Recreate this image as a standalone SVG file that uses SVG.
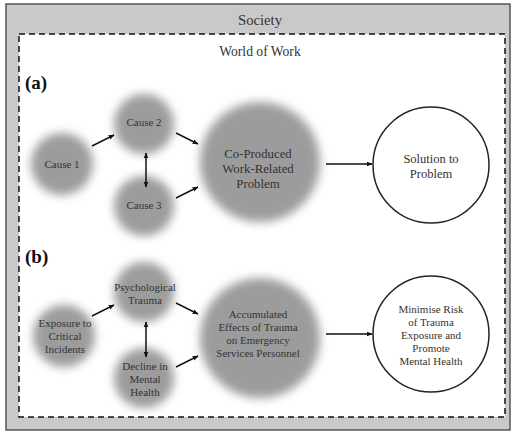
<svg xmlns="http://www.w3.org/2000/svg" width="520" height="436" viewBox="0 0 520 436" font-family="'Liberation Serif', 'DejaVu Serif', serif">
<defs>
<filter id="blur" x="-50%" y="-50%" width="200%" height="200%"><feGaussianBlur stdDeviation="5"/></filter>
<marker id="ah" viewBox="0 0 10 10" refX="9" refY="5" markerWidth="6" markerHeight="6" orient="auto-start-reverse" markerUnits="userSpaceOnUse"><path d="M0,1 L10,5 L0,9 z" fill="#111"/></marker>
</defs>
<style>
text, tspan{font-family:'Liberation Serif','DejaVu Serif',serif;fill:#333;text-anchor:middle}
.blob{fill:#9c9c9c;filter:url(#blur)}
.ring{fill:#fff;stroke:#222;stroke-width:1.5}
.t11{font-size:11px}
.t12{font-size:12.5px}
.t13{font-size:12.8px}
.lbl{font-size:19px;font-weight:bold;text-anchor:start;fill:#111}
#connectors line{stroke:#111;stroke-width:1.5;marker-end:url(#ah)}
</style>
<rect x="0" y="0" width="520" height="436" fill="#fff"/>
<g id="society">
<rect x="6" y="4" width="504" height="426" fill="#c9c9c9" stroke="#555" stroke-width="1.5"/>
<text x="260" y="25" style="font-size:14.7px">Society</text>
</g>
<g id="world-of-work">
<rect x="19" y="34" width="486" height="383" fill="#fff" stroke="#111" stroke-width="1.5" stroke-dasharray="6,4"/>
<text x="260" y="56" style="font-size:13.6px">World of Work</text>
</g>
<text class="lbl" x="25" y="89">(a)</text>
<text class="lbl" x="25" y="263">(b)</text>
<g id="cause1"><circle class="blob" cx="62" cy="164" r="31"/><text class="t11" x="62" y="168">Cause 1</text></g>
<g id="cause2"><circle class="blob" cx="144" cy="124" r="30"/><text class="t11" x="144" y="126">Cause 2</text></g>
<g id="cause3"><circle class="blob" cx="144" cy="206" r="30"/><text class="t11" x="144" y="209">Cause 3</text></g>
<g id="problem"><circle class="blob" cx="260" cy="162" r="60"/><text class="t13"><tspan x="258" y="158">Co-Produced</tspan><tspan x="258" y="173">Work-Related</tspan><tspan x="258" y="188">Problem</tspan></text></g>
<g id="solution"><circle class="ring" cx="431" cy="165" r="58"/><text class="t12"><tspan x="431" y="163">Solution to</tspan><tspan x="431" y="178">Problem</tspan></text></g>
<g id="exposure"><circle class="blob" cx="64" cy="336" r="31"/><text class="t11"><tspan x="65" y="327">Exposure to</tspan><tspan x="65" y="340">Critical</tspan><tspan x="65" y="353">Incidents</tspan></text></g>
<g id="psych"><circle class="blob" cx="144" cy="292" r="30"/><text class="t11"><tspan x="145" y="291">Psychological</tspan><tspan x="145" y="304">Trauma</tspan></text></g>
<g id="decline"><circle class="blob" cx="144" cy="378" r="30"/><text class="t11"><tspan x="145" y="370">Decline in</tspan><tspan x="145" y="383">Mental</tspan><tspan x="145" y="396">Health</tspan></text></g>
<g id="accumulated"><circle class="blob" cx="260" cy="338" r="60"/><text class="t11"><tspan x="258" y="318">Accumulated</tspan><tspan x="258" y="331">Effects of Trauma</tspan><tspan x="258" y="344">on Emergency</tspan><tspan x="258" y="357">Services Personnel</tspan></text></g>
<g id="minimise"><circle class="ring" cx="431" cy="334" r="58"/><text class="t11"><tspan x="431" y="313">Minimise Risk</tspan><tspan x="431" y="326">of Trauma</tspan><tspan x="431" y="339">Exposure and</tspan><tspan x="431" y="352">Promote</tspan><tspan x="431" y="365">Mental Health</tspan></text></g>
<g id="connectors">
<line x1="92" y1="146" x2="114" y2="135"/>
<line x1="176" y1="133" x2="198" y2="144"/>
<line x1="176" y1="198" x2="198" y2="187"/>
<line x1="146" y1="153" x2="146" y2="187" marker-start="url(#ah)"/>
<line x1="326" y1="164" x2="372" y2="164"/>
<line x1="92" y1="316" x2="114" y2="305"/>
<line x1="176" y1="303" x2="198" y2="314"/>
<line x1="176" y1="367" x2="198" y2="356"/>
<line x1="146" y1="322" x2="146" y2="357" marker-start="url(#ah)"/>
<line x1="326" y1="334" x2="372" y2="334"/>
</g>
</svg>
